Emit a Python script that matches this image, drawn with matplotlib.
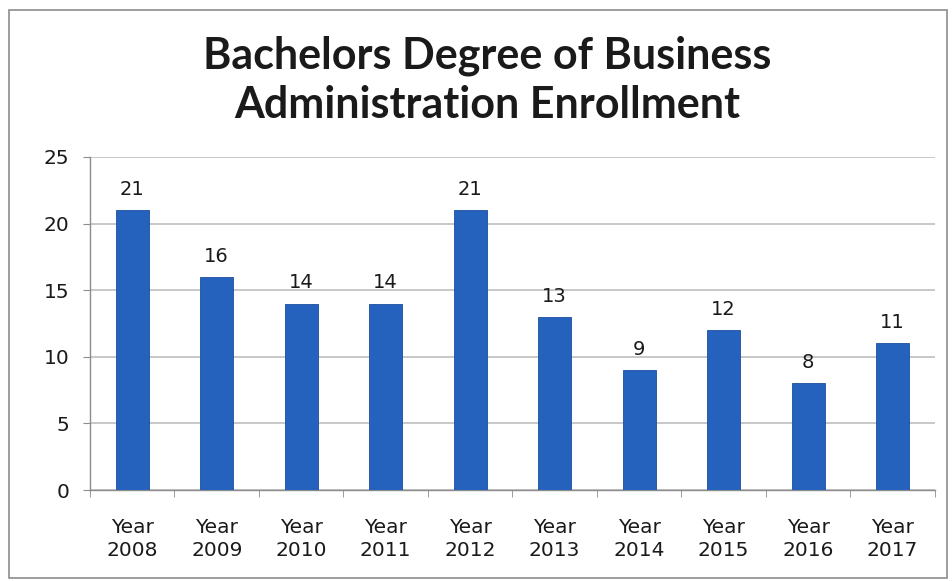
import matplotlib.pyplot as plt
import numpy as np
from matplotlib.patches import Rectangle

years = ['2008', '2009', '2010', '2011', '2012', '2013', '2014', '2015', '2016', '2017']
enrollment = [21, 16, 14, 14, 21, 13, 9, 12, 8, 11]
y_ticks = [0, 5, 10, 15, 20, 25]

bar_color = '#2462BE'
grid_color = '#BFBFBF'
text_color = '#1A1A1A'

fig = plt.figure(figsize=(9.52, 5.81), dpi=100)
ax = fig.add_axes([0.0945, 0.1566, 0.8875, 0.5732])

# frame around the whole chart area
fig.patches.append(Rectangle((0.009, 0.006), 0.986, 0.977, transform=fig.transFigure,
                             fill=False, edgecolor='#8C8C8C', linewidth=1.2))

x = np.arange(len(years))
bars = ax.bar(x, enrollment, width=0.39, color=bar_color, edgecolor='#1B4E9E',
              linewidth=0.6, zorder=3)

for xi, v in zip(x, enrollment):
    ax.annotate(str(v), (xi, v), xytext=(0, 8), textcoords='offset points',
                ha='center', va='bottom', fontsize=14, color=text_color,
                family='DejaVu Sans')

ax.set_xlim(-0.5, len(years) - 0.5)
ax.set_ylim(0, 25)
ax.set_yticks(y_ticks)
ax.set_yticklabels([str(t) for t in y_ticks], fontsize=14.5, color=text_color)
ax.set_xticks(x)
ax.set_xticklabels([f'Year\n{y}' for y in years], fontsize=14.5, color=text_color,
                   linespacing=1.3)
ax.set_xticks(np.arange(-0.5, len(years)), minor=True)
ax.tick_params(axis='x', which='major', length=0, pad=20)
ax.tick_params(axis='x', which='minor', length=5, color='#8C8C8C', direction='out')
ax.tick_params(axis='y', length=5, color='#8C8C8C', pad=10)

ax.grid(axis='y', color=grid_color, linewidth=1.2, zorder=0)
for side in ['top', 'right']:
    ax.spines[side].set_visible(False)
for side in ['left', 'bottom']:
    ax.spines[side].set_color('#8C8C8C')
    ax.spines[side].set_linewidth(1.0)

fig.text(0.512, 0.862, 'Bachelors Degree of Business\nAdministration Enrollment',
         ha='center', va='center', fontsize=31, fontweight='bold', family='Lato',
         color=text_color, linespacing=1.25)

fig.savefig('out.png', dpi=100)
